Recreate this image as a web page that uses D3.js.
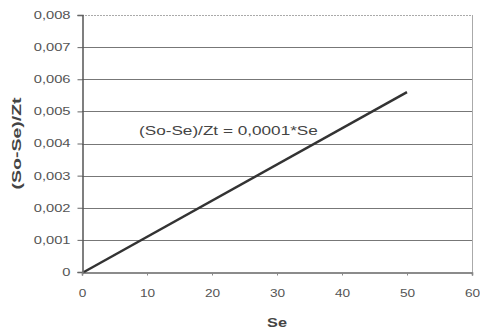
<!DOCTYPE html>
<html>
<head>
<meta charset="utf-8">
<script src="https://cdn.jsdelivr.net/npm/d3@7"></script>
<style>
  body { margin: 0; background: #fff; }
  svg { display: block; font-family: Arial, 'Liberation Sans', sans-serif; }
</style>
</head>
<body>
<div id="chart"></div>
<script>
// values
const seValues = [0.3, 50];
const ratioValues = [0, 0.0056];
const xTicks = [0, 10, 20, 30, 40, 50, 60];
const yTicks = [0, 0.001, 0.002, 0.003, 0.004, 0.005, 0.006, 0.007, 0.008];
const equationLabel = '(So-Se)/Zt = 0,0001*Se';

const width = 480, height = 331;
const margin = { top: 15, right: 8, bottom: 59, left: 82 };

const svg = d3.select('#chart').append('svg')
  .attr('width', width)
  .attr('height', height);

const x = d3.scaleLinear().domain([0, 60]).range([margin.left, width - margin.right]);
const y = d3.scaleLinear().domain([0, 0.008]).range([height - margin.bottom, margin.top]);

const fmt = d => d === 0 ? '0' : d3.format('.3f')(d).replace('.', ',');

// the scanned chart is stretched sideways, so widen the glyphs
function stretch(sel, k) {
  sel.each(function () {
    const w = this.getComputedTextLength();
    d3.select(this).attr('textLength', w * k).attr('lengthAdjust', 'spacingAndGlyphs');
  });
}

// gridlines
svg.append('g')
  .selectAll('line')
  .data(yTicks.filter(d => d > 0))
  .enter().append('line')
  .attr('x1', x(0))
  .attr('x2', x(60))
  .attr('y1', d => Math.round(y(d)) + 0.5)
  .attr('y2', d => Math.round(y(d)) + 0.5)
  .attr('stroke', d => d === 0.008 ? '#aaa' : '#777')
  .attr('stroke-dasharray', d => d === 0.008 ? '2,1' : null)
  .attr('stroke-width', 1);

// right border
svg.append('line')
  .attr('x1', Math.round(x(60)) + 0.5).attr('x2', Math.round(x(60)) + 0.5)
  .attr('y1', y(0.008)).attr('y2', y(0))
  .attr('stroke', '#aaa');

// y axis
const yAxis = svg.append('g')
  .attr('transform', `translate(${Math.round(x(0)) + 0.5},0)`)
  .call(d3.axisLeft(y).tickValues(yTicks).tickFormat(fmt).tickSize(5).tickPadding(7));
yAxis.select('.domain').attr('stroke', '#555').attr('stroke-width', 1.5);
yAxis.selectAll('.tick line').attr('stroke', '#666');
yAxis.selectAll('.tick text').attr('fill', '#555').style('font-size', '10.5px')
  .call(stretch, 1.4);

// x axis
const xAxis = svg.append('g')
  .attr('transform', `translate(0,${Math.round(y(0)) + 0.5})`)
  .call(d3.axisBottom(x).tickValues(xTicks).tickFormat(d3.format('d')).tickSize(3).tickPadding(14));
xAxis.select('.domain').attr('stroke', '#666').attr('stroke-width', 1.5);
xAxis.selectAll('.tick line').attr('stroke', '#888');
xAxis.selectAll('.tick text').attr('fill', '#555').style('font-size', '10.5px')
  .call(stretch, 1.3);

// data line
const pts = seValues.map((s, i) => [s, ratioValues[i]]);
svg.append('path')
  .datum(pts)
  .attr('fill', 'none')
  .attr('stroke', '#333')
  .attr('stroke-width', 2.5)
  .attr('d', d3.line().x(d => x(d[0])).y(d => y(d[1])));

// equation label
svg.append('text')
  .attr('x', 139)
  .attr('y', 135)
  .attr('fill', '#444')
  .style('font-size', '13px')
  .text(equationLabel)
  .call(stretch, 1.32);

// axis titles
svg.append('text')
  .attr('x', (x(0) + x(60)) / 2)
  .attr('y', 327)
  .attr('text-anchor', 'middle')
  .attr('fill', '#444')
  .style('font-size', '13px')
  .style('font-weight', 'bold')
  .text('Se')
  .call(stretch, 1.25);

svg.append('text')
  .attr('transform', `translate(21,${(y(0) + y(0.008)) / 2}) rotate(-90)`)
  .attr('text-anchor', 'middle')
  .attr('fill', '#444')
  .style('font-size', '13px')
  .style('font-weight', 'bold')
  .text('(So-Se)/Zt')
  .call(stretch, 1.5);
</script>
</body>
</html>
